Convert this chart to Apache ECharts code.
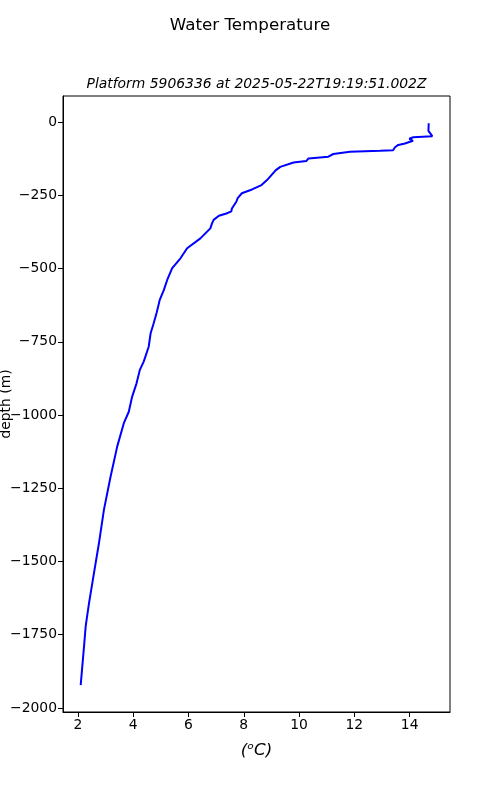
<!DOCTYPE html>
<html>
<head>
<meta charset="utf-8">
<script src="https://cdn.jsdelivr.net/npm/echarts@6/dist/echarts.min.js"></script>
<style>html,body{margin:0;padding:0;background:#fff}#c{width:500px;height:800px}</style>
</head>
<body>
<div id="c"></div>
<script>
const temperature = [14.69,14.68,14.82,14.13,13.99,14.12,13.83,13.59,13.47,13.40,12.93,11.84,11.24,11.06,10.34,10.26,9.80,9.74,9.32,9.15,9.00,8.84,8.64,8.30,7.93,7.87,7.78,7.73,7.57,7.55,7.37,7.10,6.91,6.85,6.92,6.79,6.43,5.95,5.71,5.41,5.23,5.11,4.96,4.85,4.74,4.63,4.56,4.38,4.24,4.12,3.96,3.84,3.66,3.42,3.18,2.94,2.76,2.58,2.40,2.28,2.22,2.10];
const depth = [-4,-30,-48,-52,-57,-64,-73,-78,-86,-96,-98,-101,-109,-118,-124,-133,-138,-144,-153,-165,-181,-198,-215,-230,-243,-249,-260,-272,-295,-305,-312,-320,-334,-346,-352,-363,-397,-431,-465,-499,-539,-573,-607,-650,-687,-721,-767,-818,-846,-892,-938,-989,-1028,-1108,-1211,-1324,-1438,-1540,-1643,-1722,-1791,-1922];
const xTicks = [2,4,6,8,10,12,14];
const yTicks = [0,-250,-500,-750,-1000,-1250,-1500,-1750,-2000];
const mainTitle = 'Water Temperature';
const subTitle = 'Platform 5906336 at 2025-05-22T19:19:51.002Z';

const FONT = 'DejaVu Sans';
const chart = echarts.init(document.getElementById('c'), null, {renderer:'canvas'});
const fmt = v => String(v).replace('-', '\u2212');
chart.setOption({
  animation:false,
  backgroundColor:'#fff',
  title:[
    {text:mainTitle,left:245,textAlign:'center',top:12,textStyle:{fontFamily:FONT,fontSize:16.7,fontWeight:'normal',color:'#000'}},
    {text:subTitle,left:251.5,textAlign:'center',top:72,textStyle:{fontFamily:FONT,fontSize:13.9,fontStyle:'italic',fontWeight:'normal',color:'#000'}}
  ],
  grid:{left:63,right:50,top:96,bottom:88,containLabel:false,outerBoundsMode:'none',show:true,borderColor:'#000',borderWidth:1,backgroundColor:'transparent'},
  xAxis:{type:'value',min:1.46,max:15.46,
    name:'(\u1D52C)',nameLocation:'middle',nameGap:30,nameMoveOverlap:false,
    nameTextStyle:{fontFamily:FONT,fontSize:16.7,fontStyle:'italic',color:'#000'},
    axisLine:{show:true,onZero:false,lineStyle:{color:'#000',width:1}},
    axisTick:{show:true,length:5,customValues:xTicks,lineStyle:{color:'#000'}},
    axisLabel:{customValues:xTicks,formatter:fmt,fontFamily:FONT,fontSize:13.9,color:'#000',margin:6},
    splitLine:{show:false}},
  yAxis:{type:'value',min:-2014,max:89,
    name:'depth (m)',nameLocation:'middle',nameGap:57,nameMoveOverlap:false,
    nameTextStyle:{fontFamily:FONT,fontSize:13.9,color:'#000',verticalAlign:'middle'},
    axisLine:{show:true,onZero:false,lineStyle:{color:'#000',width:1}},
    axisTick:{show:true,length:5,customValues:yTicks,lineStyle:{color:'#000'}},
    axisLabel:{customValues:yTicks,formatter:fmt,fontFamily:FONT,fontSize:13.9,color:'#000',margin:6},
    splitLine:{show:false}},
  series:[{type:'line',showSymbol:false,symbol:'none',
    data:temperature.map((t,i)=>[t,depth[i]]),
    lineStyle:{color:'#0000ff',width:2},
    itemStyle:{color:'#0000ff'}}]
});
</script>
</body>
</html>
